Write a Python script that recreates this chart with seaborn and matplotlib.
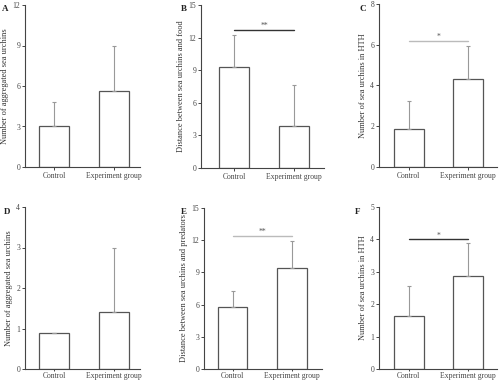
import matplotlib
matplotlib.use("Agg")
import matplotlib.pyplot as plt
import seaborn as sns
import pandas as pd

sns.set_style("ticks")
plt.rcParams['font.family'] = ['Liberation Serif', 'DejaVu Serif']

groups = ["Control", "Experiment group"]
letters = ["A", "B", "C", "D", "E", "F"]
ylabels = ["Number of aggregated sea urchins",
           "Distance between sea urchins and food",
           "Number of sea urchins in HTH",
           "Number of aggregated sea urchins",
           "Distance between sea urchins and predators",
           "Number of sea urchins in HTH"]
means = [[3.0, 5.6], [9.3, 3.9], [1.85, 4.3],
         [0.9, 1.4], [5.8, 9.4], [1.65, 2.88]]
sds = [[1.8, 3.4], [2.9, 3.7], [1.4, 1.65],
       [0.0, 1.6], [1.5, 2.5], [0.9, 1.0]]
ymax = [12, 15, 8, 4, 15, 5]
ystep = [3, 3, 2, 1, 3, 1]
sig_label = [None, "**", "*", None, "**", "*"]
sig_height = [None, 12.7, 6.2, None, 12.4, 4.0]

# axes boxes in pixels: left, top, bottom, x-range
W, H = 500, 382
boxes = [(25, 5, 167, -0.49, 1.45), (201, 5, 168, -0.56, 1.51), (379, 4, 167, -0.5, 1.48),
         (25, 207, 369, -0.49, 1.45), (204, 208, 369, -0.48, 1.5), (379, 207, 369, -0.5, 1.48)]
letter_pos = [(2, 5), (181, 5), (359, 5), (4, 208), (181, 208), (355, 208)]
sig_colors = [None, "#333333", "#bbbbbb", None, "#bbbbbb", "#333333"]

edge = "#555555"
fig = plt.figure(figsize=(5, 3.82), dpi=100)
for i in range(6):
    left, top, bottom, x0, x1 = boxes[i]
    wpx = (x1 - x0) * 59.5
    ax = fig.add_axes([left / W, 1 - bottom / H, wpx / W, (bottom - top) / H])
    df = pd.DataFrame({"group": groups, "value": means[i]})
    sns.barplot(data=df, x="group", y="value", ax=ax, color="white",
                edgecolor=edge, linewidth=0.9, width=0.5, errorbar=None)
    ax.errorbar([0, 1], means[i], yerr=[[0, 0], sds[i]], fmt="none",
                ecolor="#999999", elinewidth=0.8, capsize=1.5, capthick=0.8)
    ax.set_xlim(x0, x1)
    ax.set_ylim(0, ymax[i])
    ax.set_yticks(range(0, ymax[i] + 1, ystep[i]))
    ax.set_xlabel("")
    ax.set_ylabel(ylabels[i], fontsize=6, color="#333333", labelpad=2.5)
    ax.tick_params(labelsize=5.5, length=2, width=0.7, colors="#444444", pad=1.5)
    if i >= 3:
        ax.tick_params(axis="x", pad=0.5, length=1.5)
    sns.despine(ax=ax)
    for s in ["left", "bottom"]:
        ax.spines[s].set_color("#444444")
        ax.spines[s].set_linewidth(0.8)
    if sig_label[i]:
        ax.plot([0, 1], [sig_height[i], sig_height[i]], color=sig_colors[i], lw=1.0)
        ax.text(0.5, sig_height[i], sig_label[i], ha="center", va="bottom",
                fontsize=5.5, color="#555555")
    lx, ly = letter_pos[i]
    fig.text(lx / W, 1 - ly / H, letters[i], fontsize=6.5, fontweight="bold",
             va="top", ha="left", color="#222222")

fig.savefig("out.png", dpi=100)
